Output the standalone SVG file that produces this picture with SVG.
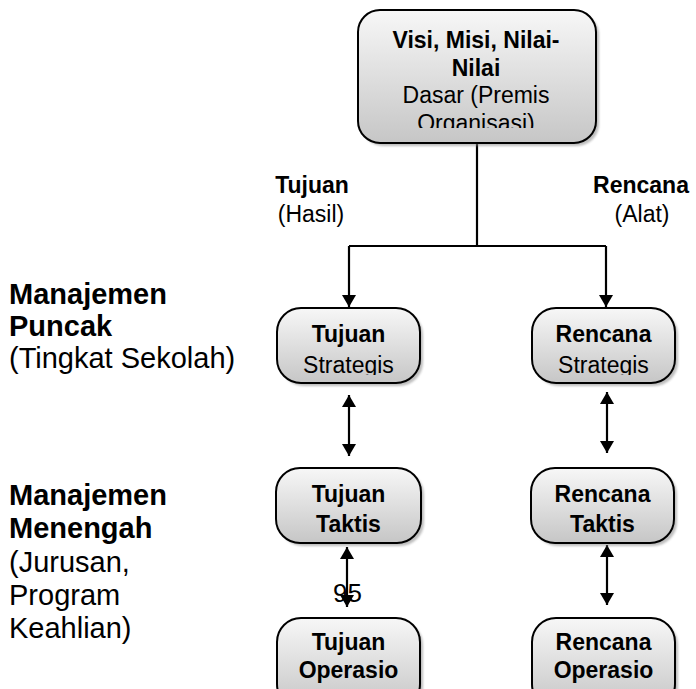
<svg xmlns="http://www.w3.org/2000/svg" width="696" height="689" viewBox="0 0 696 689">
<style>
.node{fill:url(#g);stroke:#000;stroke-width:2}
.shadow{fill:#888;opacity:0.55;filter:url(#blur)}
.b{font-family:"Liberation Sans",Arial,sans-serif;font-weight:bold;fill:#000}
.r{font-family:"Liberation Sans",Arial,sans-serif;fill:#000}
.nt{font-size:23px;text-anchor:middle}
.lbl{font-size:29px}
.conn{fill:none;stroke:#000;stroke-width:2.2}
</style>
<defs>
<linearGradient id="g" x1="0" y1="0" x2="0" y2="1">
<stop offset="0" stop-color="#f7f7f7"/>
<stop offset="1" stop-color="#c6c6c6"/>
</linearGradient>
<filter id="blur" x="-10%" y="-10%" width="120%" height="120%"><feGaussianBlur stdDeviation="1.2"/></filter>
<marker id="ah" viewBox="0 0 12 14" refX="12" refY="7" markerWidth="12" markerHeight="14" markerUnits="userSpaceOnUse" orient="auto">
<path d="M0,0 L12,7 L0,14 Z" fill="#000"/>
</marker>
<clipPath id="cTop"><rect x="358" y="10" width="238" height="118"/></clipPath>
<clipPath id="cTS"><rect x="277" y="308" width="143" height="67"/></clipPath>
<clipPath id="cRS"><rect x="532" y="308" width="143" height="67"/></clipPath>
</defs>

<g id="connectors">
<path class="conn" d="M477,143 V246"/>
<path class="conn" d="M349,246 H606"/>
<path class="conn" d="M349,246 V307" marker-end="url(#ah)"/>
<path class="conn" d="M606,246 V307" marker-end="url(#ah)"/>
<path class="conn" d="M349,425 V395" marker-end="url(#ah)"/>
<path class="conn" d="M349,425 V456" marker-end="url(#ah)"/>
<path class="conn" d="M607,422 V392" marker-end="url(#ah)"/>
<path class="conn" d="M607,422 V453" marker-end="url(#ah)"/>
<path class="conn" d="M347,577 V547" marker-end="url(#ah)"/>
<path class="conn" d="M347,577 V607" marker-end="url(#ah)"/>
<path class="conn" d="M607,575 V545" marker-end="url(#ah)"/>
<path class="conn" d="M607,575 V605" marker-end="url(#ah)"/>
</g>

<g id="node-top">
<rect class="shadow" x="361" y="13" width="238" height="133" rx="22"/>
<rect class="node" x="358" y="10" width="238" height="133" rx="22"/>
<g clip-path="url(#cTop)">
<text class="b nt" x="476" y="48">Visi, Misi, Nilai-</text>
<text class="b nt" x="476" y="76">Nilai</text>
<text class="r nt" x="476" y="103">Dasar (Premis</text>
<text class="r nt" x="476" y="131">Organisasi)</text>
</g>
</g>

<g id="label-tujuan">
<text class="b nt" x="312" y="193">Tujuan</text>
<text class="r nt" x="311" y="222">(Hasil)</text>
</g>
<g id="label-rencana">
<text class="b nt" x="641" y="193">Rencana</text>
<text class="r nt" x="642" y="222">(Alat)</text>
</g>

<g id="node-tujuan-strategis">
<rect class="shadow" x="280" y="311" width="143" height="75" rx="24"/>
<rect class="node" x="277" y="308" width="143" height="75" rx="24"/>
<g clip-path="url(#cTS)">
<text class="b nt" x="348.5" y="342">Tujuan</text>
<text class="r nt" x="348.5" y="373">Strategis</text>
</g>
</g>

<g id="node-rencana-strategis">
<rect class="shadow" x="535" y="311" width="143" height="75" rx="24"/>
<rect class="node" x="532" y="308" width="143" height="75" rx="24"/>
<g clip-path="url(#cRS)">
<text class="b nt" x="603.5" y="342">Rencana</text>
<text class="r nt" x="603.5" y="373">Strategis</text>
</g>
</g>

<g id="node-tujuan-taktis">
<rect class="shadow" x="279" y="471" width="145" height="75" rx="24"/>
<rect class="node" x="276" y="468" width="145" height="75" rx="24"/>
<text class="b nt" x="348.5" y="502">Tujuan</text>
<text class="b nt" x="348.5" y="532">Taktis</text>
</g>

<g id="node-rencana-taktis">
<rect class="shadow" x="534" y="471" width="143" height="75" rx="24"/>
<rect class="node" x="531" y="468" width="143" height="75" rx="24"/>
<text class="b nt" x="602.5" y="502">Rencana</text>
<text class="b nt" x="602.5" y="532">Taktis</text>
</g>

<g id="node-tujuan-operasional">
<rect class="shadow" x="280" y="621" width="143" height="90" rx="24"/>
<rect class="node" x="277" y="618" width="143" height="90" rx="24"/>
<text class="b nt" x="348.5" y="650">Tujuan</text>
<text class="b nt" x="348.5" y="678">Operasio</text>
</g>

<g id="node-rencana-operasional">
<rect class="shadow" x="535" y="621" width="143" height="90" rx="24"/>
<rect class="node" x="532" y="618" width="143" height="90" rx="24"/>
<text class="b nt" x="603.5" y="650">Rencana</text>
<text class="b nt" x="603.5" y="678">Operasio</text>
</g>

<g id="label-puncak">
<text class="b lbl" x="9" y="304">Manajemen</text>
<text class="b lbl" x="9" y="336">Puncak</text>
<text class="r lbl" x="9" y="368">(Tingkat Sekolah)</text>
</g>

<g id="label-menengah">
<text class="b lbl" x="9" y="505">Manajemen</text>
<text class="b lbl" x="9" y="538">Menengah</text>
<text class="r lbl" x="9" y="572">(Jurusan,</text>
<text class="r lbl" x="9" y="605">Program</text>
<text class="r lbl" x="9" y="638">Keahlian)</text>
</g>

<text class="r" x="333" y="602" font-size="26">95</text>
</svg>
